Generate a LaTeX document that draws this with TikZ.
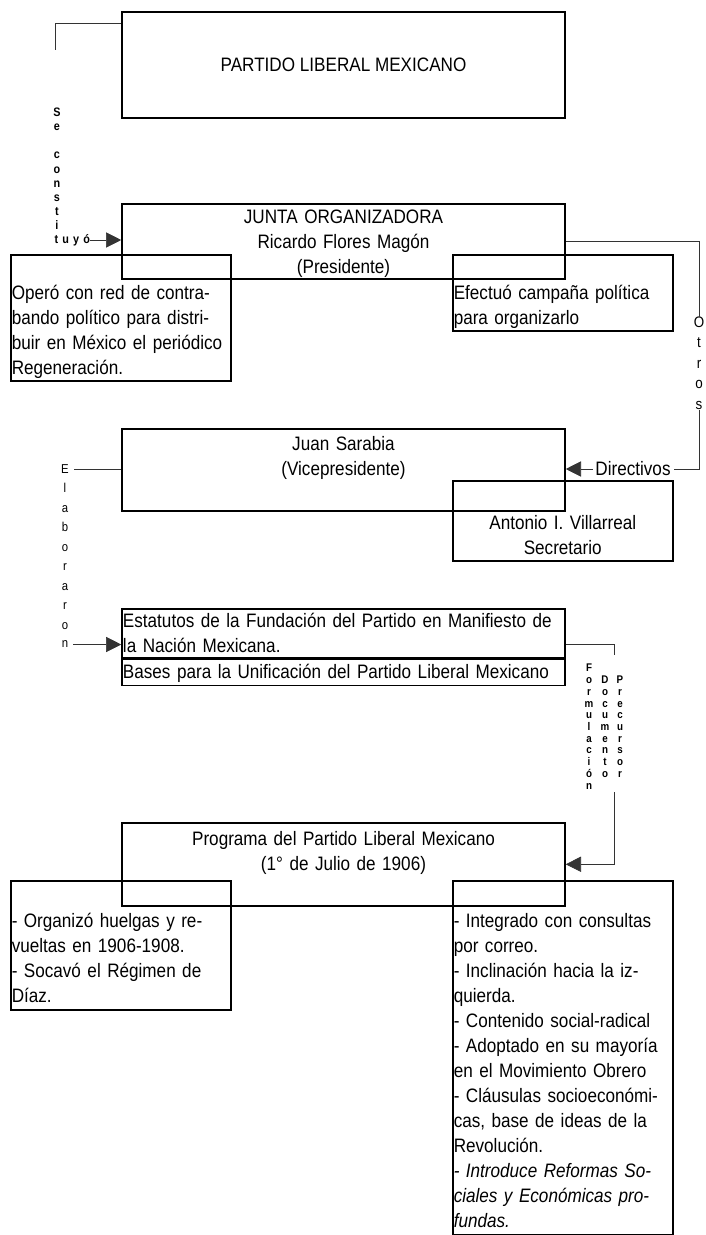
\documentclass[tikz,border=0pt]{standalone}
\usepackage{fontspec}
\setmainfont{Liberation Sans}[FakeStretch=0.88]
\usetikzlibrary{arrows.meta, positioning, calc}

\newcommand\bodysize{\fontsize{16.6}{21.34}\selectfont}
\newcommand\stacksize{\fontsize{10.5}{12.1}\selectfont\bfseries}

\tikzset{
  box/.style={draw, line width=1.3pt, inner xsep=0.03cm, inner ysep=0pt, font=\bodysize},
  wide/.style={box, anchor=north, text width=13.23cm},
  narrow/.style={box, anchor=north west, text width=6.54cm},
  conn/.style={black!80, line width=0.6pt},
  arr/.style={conn, -{Triangle[length=13pt,width=13pt]}},
  vword/.style={inner sep=0pt, align=center, font=\stacksize},
}

\begin{document}
\begin{tikzpicture}[x=0.03cm, y=-0.03cm]
\useasboundingbox (0,0) rectangle (706,1235);

% partido y junta
\node[box, minimum width=13.29cm, minimum height=3.18cm] (plm) at (343.5,65) {PARTIDO LIBERAL MEXICANO};
\node[wide, align=center, text height=0.585cm, text depth=1.665cm] (junta) at (343.5,203)
  {JUNTA ORGANIZADORA\\Ricardo Flores Magón\\(Presidente)};
\node[narrow, align=left, text height=1.335cm, text depth=2.445cm] (opero) at (10,254)
  {Operó con red de contra-\\bando político para distri-\\buir en México el periódico\\Regeneración.};
\node[narrow, align=left, text height=1.335cm, text depth=0.945cm] (efect) at (452,254)
  {Efectuó campaña política\\para organizarlo};

% se constituyo
\coordinate (sc) at (55,50);
\draw[conn] ([yshift=-0.36cm]plm.north west) -| (sc);
\node[vword, anchor=north] (secons) at (57,107.5) {S\\e\\[12.1pt]c\\o\\n\\s\\t\\i};
\node[vword, anchor=west] (tuyo) at (54.5,240) {t\hspace{3.5pt}u\hspace{3.5pt}y\hspace{3.5pt}ó};
\draw[arr] (tuyo.east) -- (tuyo.east -| junta.west);

% otros directivos
\node[vword, anchor=north, font=\fontsize{13}{17.5}\selectfont] (otros) at (699,316.5) {O\\t\\r\\o\\s};
\node[inner sep=0pt, font=\bodysize] (direct) at (633,469) {Directivos};
\draw[conn] (junta.east) -| (otros.north);
\draw[conn, shorten >=3pt] (otros.south) |- (direct.east);

\node[wide, align=center, text height=0.645cm, text depth=1.815cm] (juan) at (343.5,428)
  {Juan Sarabia\\(Vicepresidente)};
\node[narrow, align=center, text height=1.455cm, text depth=0.945cm] (anton) at (452,480)
  {Antonio I. Villarreal\\Secretario};
\draw[arr, shorten <=2pt] (direct.west) -- (direct.west -| juan.east);

% elaboraron
\node[vword, anchor=north, font=\fontsize{11}{16.65}\selectfont] (elab) at (65,464.3) {E\\l\\a\\b\\o\\r\\a\\r\\o};
\node[vword, font=\fontsize{11}{16.65}\selectfont] (elabn) at (65,644.5) {n};
\draw[conn, shorten >=4pt] (juan.west) -- (juan.west -| elab.east);

\node[wide, align=left, text height=0.555cm, text depth=0.915cm] (estat) at (343.5,608)
  {Estatutos de la Fundación del Partido en Manifiesto de\\la Nación Mexicana.};
\node[wide, align=left, text height=0.585cm, text depth=0.195cm, below=0pt of estat] (bases)
  {Bases para la Unificación del Partido Liberal Mexicano};
\draw[arr, shorten <=4pt] (elabn.east) -- (elabn.east -| estat.west);

% formulacion
\coordinate (ftop) at (614,655);
\draw[conn] (elabn -| estat.east) -| (ftop);
\node[vword, anchor=north, font=\fontsize{9.5}{10}\selectfont\bfseries] (formul) at (589,664) {F\\o\\r\\m\\u\\l\\a\\c\\i\\ó\\n};
\node[vword, anchor=north, font=\fontsize{9.5}{10}\selectfont\bfseries] (docum) at (605,675.7) {D\\o\\c\\u\\m\\e\\n\\t\\o};
\node[vword, anchor=north, font=\fontsize{9.5}{10}\selectfont\bfseries] (precur) at (620,675.7) {P\\r\\e\\c\\u\\r\\s\\o\\r};

\node[wide, align=center, text height=0.675cm, text depth=1.815cm] (prog) at (343.5,822)
  {Programa del Partido Liberal Mexicano\\(1° de Julio de 1906)};
\coordinate (fbot) at (614,792);
\draw[arr] (fbot) |- (prog.east);

\node[narrow, align=left, text height=1.395cm, text depth=2.475cm] (organ) at (10,880)
  {- Organizó huelgas y re-\\vueltas en 1906-1908.\\- Socavó el Régimen de\\Díaz.};
\node[narrow, align=left, text height=1.395cm, text depth=9.225cm] (integ) at (452,880)
  {- Integrado con consultas\\por correo.\\- Inclinación hacia la iz-\\quierda.\\- Contenido social-radical\\
   - Adoptado en su mayoría\\en el Movimiento Obrero\\- Cláusulas socioeconómi-\\cas, base de ideas de la\\
   Revolución.\\\textit{- Introduce Reformas So-}\\\textit{ciales y Económicas pro-}\\\textit{fundas.}};

\end{tikzpicture}
\end{document}
